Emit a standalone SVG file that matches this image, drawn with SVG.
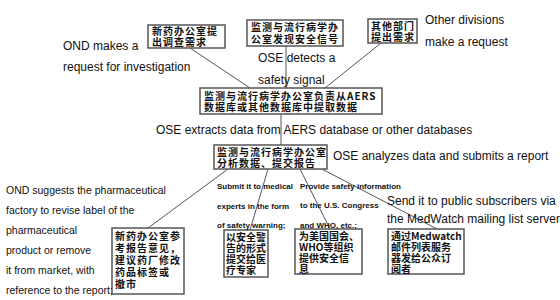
<svg xmlns="http://www.w3.org/2000/svg" width="560" height="300" viewBox="0 0 560 300">
<defs>
<style>
.bg{fill:#ffffff}
.box{fill:#ffffff;stroke:#555555;stroke-width:1.5}
.cn{font-family:"Noto Sans CJK SC","Liberation Sans",sans-serif;font-size:10px;font-weight:bold;fill:#111111;letter-spacing:1px}
.tight{letter-spacing:0px}
.en{font-family:"Liberation Sans",Arial,sans-serif;font-size:12px;fill:#111111}
.en11{font-family:"Liberation Sans",Arial,sans-serif;font-size:10.5px;fill:#111111}
.sm{font-family:"Liberation Sans",Arial,sans-serif;font-size:8px;font-weight:bold;fill:#111111}
.ln{stroke:#555555;stroke-width:1;fill:none}
</style>
</defs>
<rect class="bg" x="0" y="0" width="560" height="300"/>
<g id="connectors">
<line class="ln" x1="190" y1="48" x2="250" y2="88"/>
<line class="ln" x1="286" y1="46" x2="286" y2="88"/>
<line class="ln" x1="381" y1="43" x2="325" y2="88"/>
<line class="ln" x1="281" y1="114" x2="281" y2="145"/>
<line class="ln" x1="228" y1="169" x2="148" y2="228"/>
<line class="ln" x1="268" y1="169" x2="250" y2="230"/>
<line class="ln" x1="300" y1="169" x2="330" y2="229"/>
<line class="ln" x1="318" y1="167" x2="437" y2="229"/>
</g>
<g id="n1">
<rect class="box" x="148" y="25" width="77" height="23"/>
<text class="cn" x="152" y="35">新药办公室提</text>
<text class="cn" x="152" y="45.5">出调查需求</text>
</g>
<g id="n2">
<rect class="box" x="247" y="20" width="96" height="26"/>
<text class="cn" x="251" y="31">监测与流行病学办</text>
<text class="cn" x="251" y="42.5">公室发现安全信号</text>
</g>
<g id="n3">
<rect class="box" x="368" y="19" width="49" height="24"/>
<text class="cn" x="371" y="30">其他部门</text>
<text class="cn" x="371" y="40.5">提出需求</text>
</g>
<g id="n4">
<rect class="box" x="200" y="88" width="182" height="26"/>
<text class="cn" x="204" y="99.5">监测与流行病学办公室负责从AERS</text>
<text class="cn" x="204" y="110.5">数据库或其他数据库中提取数据</text>
</g>
<g id="n5">
<rect class="box" x="214" y="145" width="113" height="24"/>
<text class="cn" x="217" y="156">监测与流行病学办公室</text>
<text class="cn" x="217" y="166.5">分析数据、提交报告</text>
</g>
<g id="n6">
<rect class="box" x="112" y="228" width="72" height="66"/>
<text class="cn" x="115" y="240">新药办公室参</text>
<text class="cn" x="115" y="252">考报告意见，</text>
<text class="cn" x="115" y="264">建议药厂修改</text>
<text class="cn" x="115" y="276">药品标签或</text>
<text class="cn" x="115" y="288">撤市</text>
</g>
<g id="n7">
<rect class="box" x="224" y="230" width="44" height="47"/>
<text class="cn tight" x="226" y="241">以安全警</text>
<text class="cn tight" x="226" y="252">告的形式</text>
<text class="cn tight" x="226" y="263">提交给医</text>
<text class="cn tight" x="226" y="274">疗专家</text>
</g>
<g id="n8">
<rect class="box" x="295" y="229" width="67" height="45"/>
<text class="cn tight" x="299" y="240">为美国国会、</text>
<text class="cn tight" x="299" y="251">WHO等组织</text>
<text class="cn tight" x="299" y="262">提供安全信</text>
<text class="cn tight" x="299" y="273">息</text>
</g>
<g id="n9">
<rect class="box" x="388" y="229" width="76" height="45"/>
<text class="cn tight" x="391" y="240">通过Medwatch</text>
<text class="cn tight" x="391" y="251">邮件列表服务</text>
<text class="cn tight" x="391" y="262">器发给公众订</text>
<text class="cn tight" x="391" y="273">阅者</text>
</g>
<g id="labels">
<text class="en" x="63" y="50">OND makes a</text>
<text class="en" x="63" y="71">request for investigation</text>
<text class="en" x="258" y="62">OSE detects a</text>
<text class="en" x="258" y="84">safety signal</text>
<text class="en" x="425" y="24">Other divisions</text>
<text class="en" x="425" y="46">make a request</text>
<text class="en" x="156" y="134">OSE extracts data from AERS database or other databases</text>
<text class="en" x="333" y="160">OSE analyzes data and submits a report</text>
<text class="en11" x="6" y="194">OND suggests the pharmaceutical</text>
<text class="en11" x="6" y="214">factory to revise label of the</text>
<text class="en11" x="6" y="234">pharmaceutical</text>
<text class="en11" x="6" y="254">product or remove</text>
<text class="en11" x="6" y="274">it from market, with</text>
<text class="en11" x="6" y="294">reference to the report;</text>
<text class="sm" x="217" y="189">Submit it to medical</text>
<text class="sm" x="217" y="209">experts in the form</text>
<text class="sm" x="217" y="228">of safety warning;</text>
<text class="sm" x="300" y="189">Provide safety information</text>
<text class="sm" x="300" y="208">to the U.S. Congress</text>
<text class="sm" x="300" y="228">and WHO, etc.;</text>
<text class="en" x="387" y="205">Send it to public subscribers via</text>
<text class="en" x="387" y="223">the MedWatch mailing list server</text>
</g>
</svg>
